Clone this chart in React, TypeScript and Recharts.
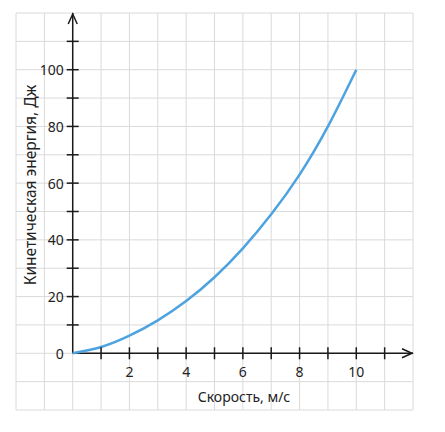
import { LineChart, Line, XAxis, YAxis, CartesianGrid, ReferenceLine, ReferenceDot } from "recharts"

const speeds = [0, 1, 2, 3, 4, 5, 6, 7, 8, 9, 10]
const energies = [0, 2.2, 6.2, 11.6, 18.4, 26.8, 37, 49, 63, 80, 100]

const gridX = [-2, -1, 0, 1, 2, 3, 4, 5, 6, 7, 8, 9, 10, 11, 12]
const gridY = [-20, -10, 0, 10, 20, 30, 40, 50, 60, 70, 80, 90, 100, 110, 120]
const xTicks = [1, 2, 3, 4, 5, 6, 7, 8, 9, 10, 11]
const xLabels = [2, 4, 6, 8, 10]
const yTicks = [10, 20, 30, 40, 50, 60, 70, 80, 90, 100, 110]
const yLabels = [0, 20, 40, 60, 80, 100]

const xTitle = "Скорость, м/с"
const yTitle = "Кинетическая энергия, Дж"

const data = speeds.map((v, i) => ({ v, e: energies[i] }))

const AXIS = "#1a1a1a"
const FONT = "'Noto Sans', 'Open Sans', sans-serif"

const XTick = (label?: number) => (props: any) => (
  <g>
    <line x1={props.cx} x2={props.cx} y1={props.cy - 6} y2={props.cy + 6} stroke={AXIS} strokeWidth={1.5} />
    {label !== undefined && (
      <text x={props.cx} y={props.cy + 18} textAnchor="middle" dominantBaseline="central" fontSize={14} fill="#222" fontFamily={FONT}>
        {label}
      </text>
    )}
  </g>
)

const YTick = (label?: number, withLine = true) => (props: any) => (
  <g>
    {withLine && <line x1={props.cx - 6} x2={props.cx + 6} y1={props.cy} y2={props.cy} stroke={AXIS} strokeWidth={1.5} />}
    {label !== undefined && (
      <text x={props.cx - 9} y={props.cy} textAnchor="end" dominantBaseline="central" fontSize={14} fill="#222" fontFamily={FONT}>
        {label}
      </text>
    )}
  </g>
)

const ArrowUp = (props: any) => (
  <polyline points={`${props.cx - 4.5},${props.cy + 11} ${props.cx},${props.cy + 1} ${props.cx + 4.5},${props.cy + 11}`} fill="none" stroke={AXIS} strokeWidth={1.5} />
)

const ArrowRight = (props: any) => (
  <polyline points={`${props.cx - 11},${props.cy - 4.5} ${props.cx - 1},${props.cy} ${props.cx - 11},${props.cy + 4.5}`} fill="none" stroke={AXIS} strokeWidth={1.5} />
)

export default function App() {
  return (
    <div style={{ position: "absolute", left: 0, top: 0, width: 445, height: 432, background: "#fff" }}>
      <LineChart width={445} height={432} data={data} margin={{ top: 13, right: 32, bottom: 22, left: 16 }}>
        <XAxis type="number" dataKey="v" domain={[-2, 12]} ticks={gridX} hide />
        <YAxis type="number" domain={[-20, 120]} ticks={gridY} hide />
        <CartesianGrid stroke="#dadada" strokeWidth={1} />
        <ReferenceLine segment={[{ x: 0, y: 0 }, { x: 0, y: 120 }]} stroke={AXIS} strokeWidth={1.5} ifOverflow="visible" />
        <ReferenceLine segment={[{ x: 0, y: 0 }, { x: 12, y: 0 }]} stroke={AXIS} strokeWidth={1.5} ifOverflow="visible" />
        {xTicks.map((t) => (
          <ReferenceDot key={"x" + t} x={t} y={0} ifOverflow="visible" shape={XTick(xLabels.includes(t) ? t : undefined)} />
        ))}
        {yTicks.map((t) => (
          <ReferenceDot key={"y" + t} x={0} y={t} ifOverflow="visible" shape={YTick(yLabels.includes(t) ? t : undefined)} />
        ))}
        <ReferenceDot x={0} y={0} ifOverflow="visible" shape={YTick(0, false)} />
        <ReferenceDot x={0} y={120} ifOverflow="visible" shape={ArrowUp} />
        <ReferenceDot x={12} y={0} ifOverflow="visible" shape={ArrowRight} />
        <Line type="natural" dataKey="e" stroke="#4da3e0" strokeWidth={2.5} dot={false} isAnimationActive={false} />
        <text x={244} y={396} textAnchor="middle" dominantBaseline="central" fontSize={14} fill="#222" fontFamily={FONT}>
          {xTitle}
        </text>
        <text x={30} y={185} textAnchor="middle" dominantBaseline="central" fontSize={15.5} fill="#222" fontFamily={FONT} transform="rotate(-90 30 185)">
          {yTitle}
        </text>
      </LineChart>
    </div>
  )
}
